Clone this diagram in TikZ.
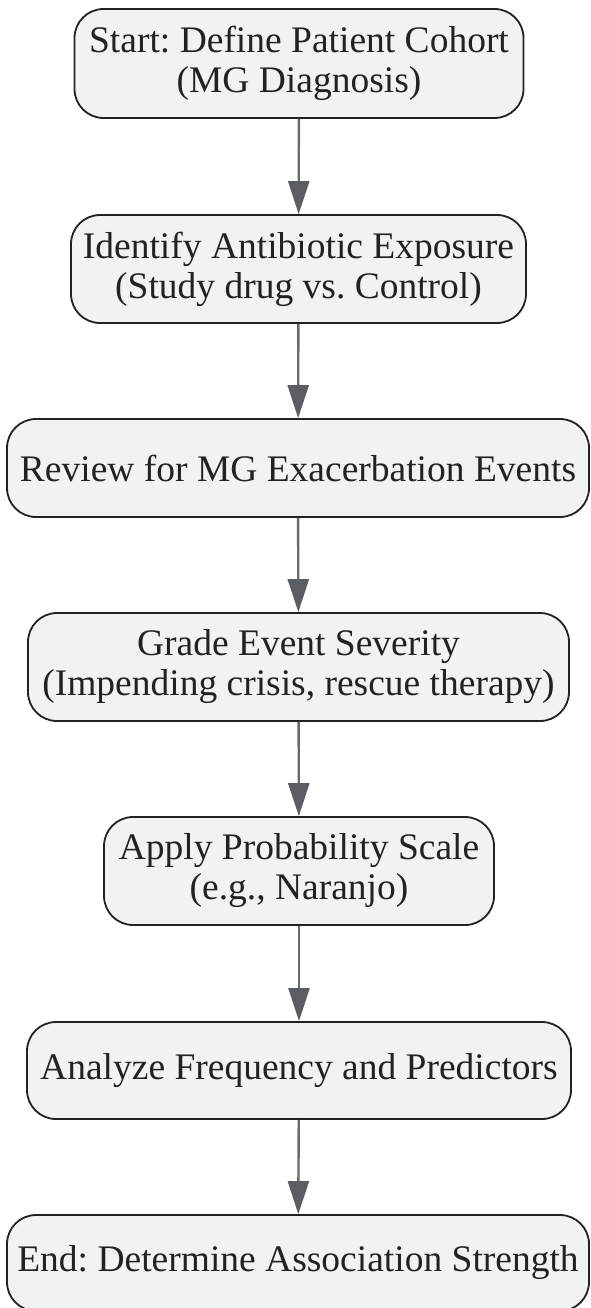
\documentclass[tikz,border=0pt]{standalone}
\usepackage{fontspec}
\setmainfont{Liberation Serif}
\usetikzlibrary{arrows.meta}
\frenchspacing
\definecolor{boxfill}{RGB}{241,242,244}
\definecolor{boxline}{RGB}{34,34,34}
\definecolor{arrline}{RGB}{104,106,110}
\definecolor{arrhead}{RGB}{90,94,99}
\tikzset{
  flowbox/.style={draw=boxline, line width=1.8pt, fill=boxfill, rounded corners=29pt,
    inner sep=0pt, align=center, text=boxline,
    font=\fontsize{37.5pt}{40pt}\selectfont\frenchspacing},
  flowarrow/.style={draw=arrline, line width=2.4pt,
    -{Triangle[length=33pt,width=21pt,fill=arrhead,color=arrhead]}}
}
\begin{document}
\begin{tikzpicture}[x=1pt,y=-1pt]
\useasboundingbox (0,0) rectangle (590,1308);
\node[flowbox, minimum width=449pt, minimum height=109pt] (n1) at (299,63.5) {Start: Define Patient Cohort\\(MG Diagnosis)};
\node[flowbox, minimum width=455pt, minimum height=108pt] (n2) at (298.5,269) {Identify Antibiotic Exposure\\(Study drug vs. Control)};
\node[flowbox, minimum width=582pt, minimum height=98pt] (n3) at (298,468) {Review for MG Exacerbation Events};
\node[flowbox, minimum width=541pt, minimum height=108pt] (n4) at (298.5,667) {Grade Event Severity\\(Impending crisis, rescue therapy)};
\node[flowbox, minimum width=390pt, minimum height=108pt] (n5) at (299,871) {Apply Probability Scale\\(e.g., Naranjo)};
\node[flowbox, minimum width=544pt, minimum height=97pt] (n6) at (299,1070.5) {Analyze Frequency and Predictors};
\node[flowbox, minimum width=582pt, minimum height=96pt] (n7) at (298,1263) {End: Determine Association Strength};
\draw[flowarrow] (n1) -- (n2);
\draw[flowarrow] (n2) -- (n3);
\draw[flowarrow] (n3) -- (n4);
\draw[flowarrow] (n4) -- (n5);
\draw[flowarrow] (n5) -- (n6);
\draw[flowarrow] (n6) -- (n7);
\end{tikzpicture}
\end{document}
